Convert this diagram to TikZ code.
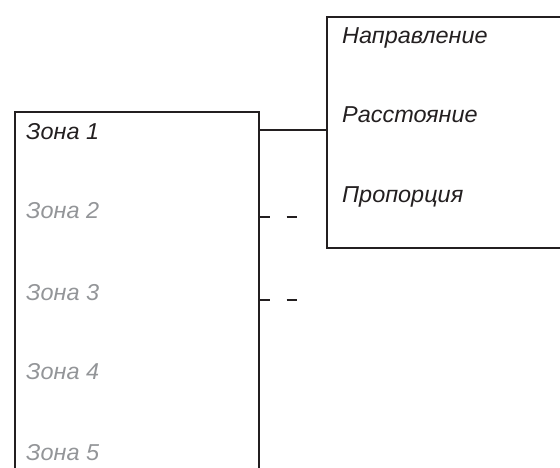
\documentclass[tikz,border=0pt]{standalone}
\usepackage{fontspec}
\newfontfamily\zf[FakeStretch=1.02]{Liberation Sans}
\definecolor{ink}{HTML}{231F20}
\definecolor{dim}{HTML}{939598}
\tikzset{
  boxframe/.style={draw=ink, line width=1.6pt, rectangle, inner sep=0pt, anchor=north west},
  lbl/.style={anchor=base west, inner sep=0pt, font=\zf\itshape\fontsize{23}{27}\selectfont, text=ink},
  dimlbl/.style={lbl, text=dim},
  link/.style={draw=ink, line width=1.6pt},
}
\begin{document}
\begin{tikzpicture}[x=1pt,y=1pt]
\useasboundingbox (0,0) rectangle (560,-467);
\clip (0,0) rectangle (560,-467);
\node[boxframe, minimum width=244pt, minimum height=420pt] (L) at (14,-111) {};
\node[boxframe, minimum width=260pt, minimum height=231pt] (R) at (326,-16) {};
\node[lbl] (z1) at (26,-139.3) {Зона 1};
\node[dimlbl] (z2) at (26,-218.3) {Зона 2};
\node[dimlbl] (z3) at (26,-300.3) {Зона 3};
\node[dimlbl] (z4) at (26,-379.3) {Зона 4};
\node[dimlbl] (z5) at (26,-460.3) {Зона 5};
\node[lbl] (r1) at (342,-43.3) {Направление};
\node[lbl] (r2) at (342,-122.3) {Расстояние};
\node[lbl] (r3) at (342,-202.3) {Пропорция};
\draw[link] (L.east |- 0,-130) coordinate (a1) -- (R.west |- a1);
\coordinate (d2) at (297,-217);
\coordinate (d3) at (297,-300);
\draw[link, dash pattern=on 10pt off 17pt on 12pt off 20pt] (L.east |- d2) -- (d2);
\draw[link, dash pattern=on 10pt off 17pt on 12pt off 20pt] (L.east |- d3) -- (d3);
\end{tikzpicture}
\end{document}
